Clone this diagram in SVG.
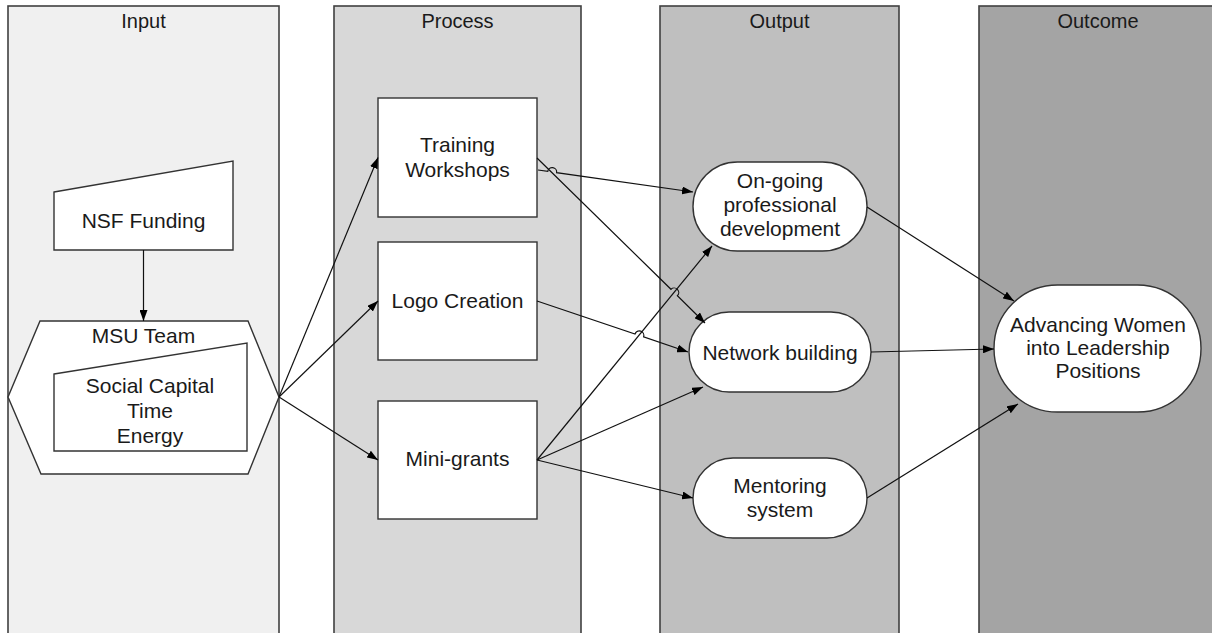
<svg xmlns="http://www.w3.org/2000/svg" width="1212" height="633" viewBox="0 0 1212 633">
<defs>
<marker id="arr" markerUnits="userSpaceOnUse" markerWidth="11" markerHeight="8" refX="11" refY="4" orient="auto">
<path d="M0,0 L11,4 L0,8 z" fill="#000"/>
</marker>
<style>
.lane{stroke:#404040;stroke-width:1.6}
.node{fill:#fff;stroke:#333;stroke-width:1.4}
text{font-family:"Liberation Sans",Arial,sans-serif;font-size:21px;fill:#1a1a1a;text-anchor:middle}
.hd{font-size:20px}
.c{fill:none;stroke:#111;stroke-width:1.2;marker-end:url(#arr)}
</style>
</defs>
<rect width="1212" height="633" fill="#fff"/>
<g id="lanes">
<g id="lane-input"><rect class="lane" x="8" y="6" width="271" height="640" fill="#f0f0f0"/><text class="hd" x="143.5" y="28">Input</text></g>
<g id="lane-process"><rect class="lane" x="334" y="6" width="247" height="640" fill="#d8d8d8"/><text class="hd" x="457.5" y="28">Process</text></g>
<g id="lane-output"><rect class="lane" x="660" y="6" width="239" height="640" fill="#bfbfbf"/><text class="hd" x="779.5" y="28">Output</text></g>
<g id="lane-outcome"><rect class="lane" x="979" y="6" width="240" height="640" fill="#a4a4a4"/><text class="hd" x="1098" y="28">Outcome</text></g>
</g>
<g id="nsf"><polygon class="node" points="54,192 233,161 233,250 54,250"/><text x="143.5" y="228">NSF Funding</text></g>
<g id="msu"><polygon class="node" points="40,321 248,321 279,397 248,474 41,474 8,397"/><text x="143.5" y="343">MSU Team</text>
<polygon class="node" points="54,374 247,343 247,451 54,451"/>
<text x="150" y="393">Social Capital</text><text x="150" y="418">Time</text><text x="150" y="443">Energy</text></g>
<g id="training"><rect class="node" x="378" y="98" width="159" height="119"/><text x="457.5" y="152">Training</text><text x="457.5" y="177">Workshops</text></g>
<g id="logo"><rect class="node" x="378" y="242" width="159" height="118"/><text x="457.5" y="308">Logo Creation</text></g>
<g id="minigrants"><rect class="node" x="378" y="401" width="159" height="118"/><text x="457.5" y="466">Mini-grants</text></g>
<g id="ongoing"><rect class="node" x="693" y="162" width="174" height="89" rx="44.5"/><text x="780" y="188">On-going</text><text x="780" y="212">professional</text><text x="780" y="236">development</text></g>
<g id="network"><rect class="node" x="689" y="312" width="182" height="80" rx="40"/><text x="780" y="360">Network building</text></g>
<g id="mentoring"><rect class="node" x="693" y="458" width="174" height="80" rx="40"/><text x="780" y="493">Mentoring</text><text x="780" y="517">system</text></g>
<g id="advancing"><rect class="node" x="994" y="285" width="207" height="127" rx="63.5"/><text x="1098" y="332">Advancing Women</text><text x="1098" y="355">into Leadership</text><text x="1098" y="378">Positions</text></g>
<g id="connectors">
<path class="c" d="M143.5,250 L143.5,321"/>
<path class="c" d="M279,397 L378,157.5"/>
<path class="c" d="M279,397 L378,301"/>
<path class="c" d="M279,397 L378,460"/>
<path class="c" d="M538,170 L547.75,171.37 A4.5,4.5 0 0 1 556.66,172.63 L693,192"/>
<path class="c" d="M537,158 L671,289.3 A4.5,4.5 0 0 1 677.4,295.7 L705,323"/>
<path class="c" d="M537,301 L635,334 A4.5,4.5 0 0 1 643.6,336.9 L688,352"/>
<path class="c" d="M537,460 L712,246"/>
<path class="c" d="M537,460 L703,387"/>
<path class="c" d="M537,460 L693,498"/>
<path class="c" d="M867,207 L1014,301"/>
<path class="c" d="M871,352 L994,349"/>
<path class="c" d="M867,498 L1018,404"/>
</g>
</svg>
